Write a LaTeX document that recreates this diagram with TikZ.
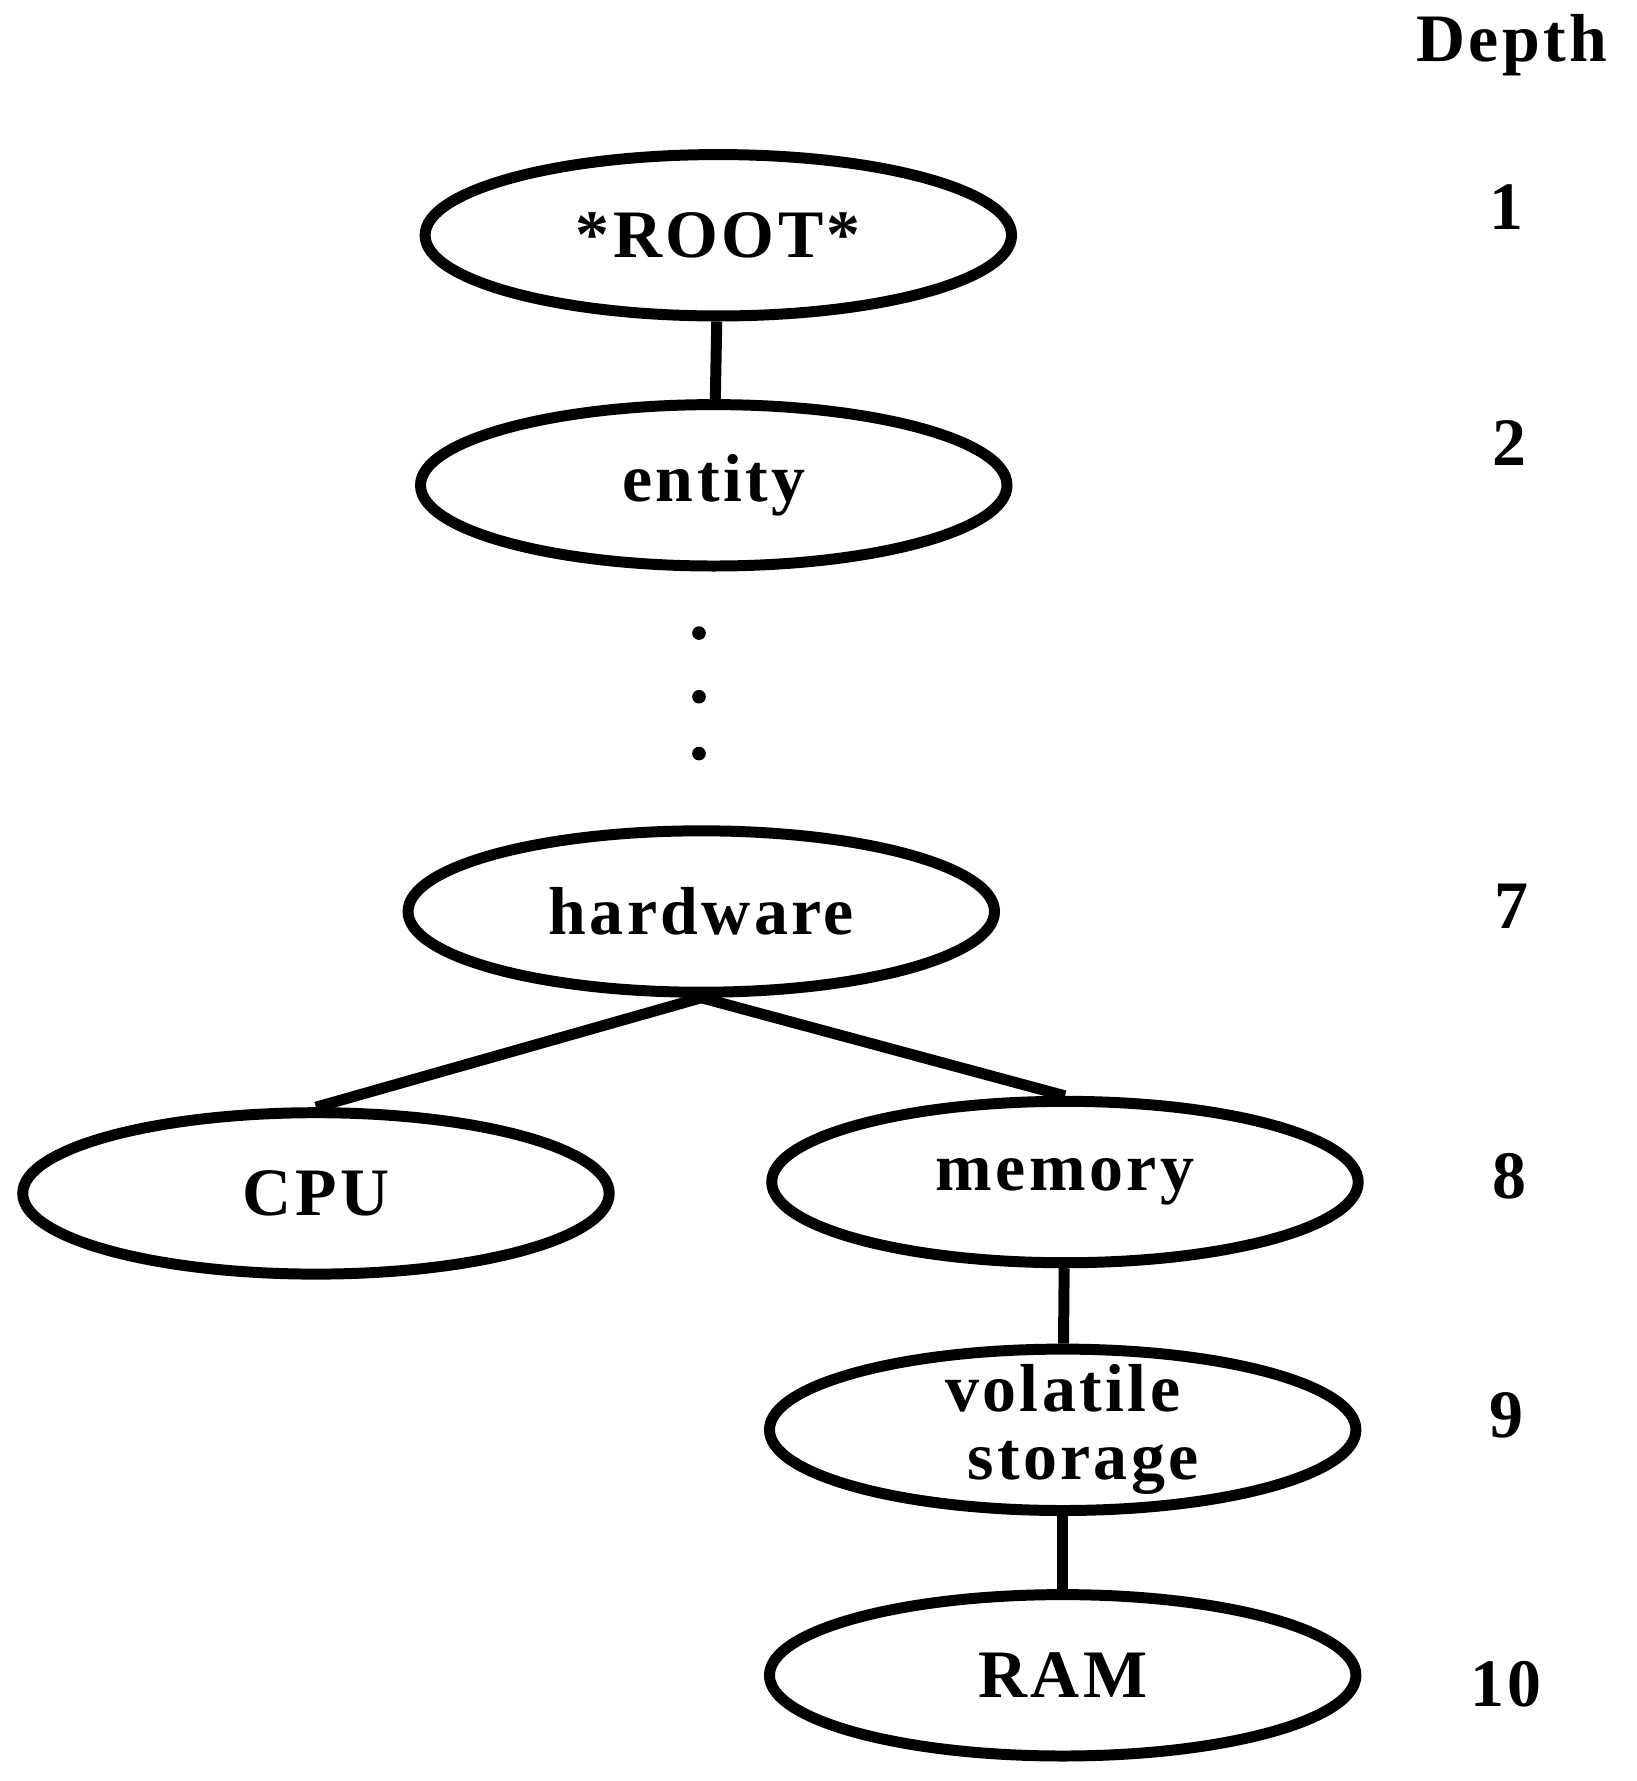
\documentclass[tikz,border=0pt]{standalone}
\usepackage{fontspec}
\setmainfont{Liberation Serif}[LetterSpace=5]
\usetikzlibrary{shapes.geometric}
\begin{document}
\begin{tikzpicture}[x=0.02cm,y=-0.02cm,
  el/.style={ellipse,draw,line width=5.5pt,minimum width=516*0.02cm,minimum height=142*0.02cm,inner sep=0pt,font=\fontsize{34}{30}\selectfont\bfseries,align=center},
  ed/.style={line width=5.5pt},
  txt/.style={font=\fontsize{34}{30}\selectfont\bfseries,align=center},
  lab/.style={font=\fontsize{34}{36}\selectfont\bfseries}]
\useasboundingbox (0,0) rectangle (1440,1567);
\node[el] (root) at (632,207) {*ROOT*};
\node[el] (entity) at (628,427) {entity};
\node[el] (hw) at (617,802) {hardware};
\node[el] (cpu) at (278,1050) {CPU};
\node[el] (mem) at (937,1040) {memory};
\node[el] (vol) at (935,1258) {};
\node[txt] (voltxt) at (935,1258) {volatile\\[4pt]\ \ storage};
\node[el] (ram) at (935,1474) {RAM};
\draw[ed] (root) -- (entity);
\draw[ed] (hw.south) -- (cpu.north);
\draw[ed] (hw.south) -- (mem.north);
\draw[ed] (mem) -- (vol);
\draw[ed] (vol) -- (ram);
\foreach \y/\n in {557/d1,613/d2,663/d3} \fill (615,\y) circle[radius=6] coordinate (\n);
\node[lab] (dep) at (1330,40) {Depth};
\node[lab] (l1) at (1325,182) {1};
\node[lab] (l2) at (1328,390) {2};
\node[lab] (l7) at (1330,797) {7};
\node[lab] (l8) at (1328,1035) {8};
\node[lab] (l9) at (1325,1245) {9};
\node[lab] (l10) at (1325,1482) {10};
\end{tikzpicture}
\end{document}
